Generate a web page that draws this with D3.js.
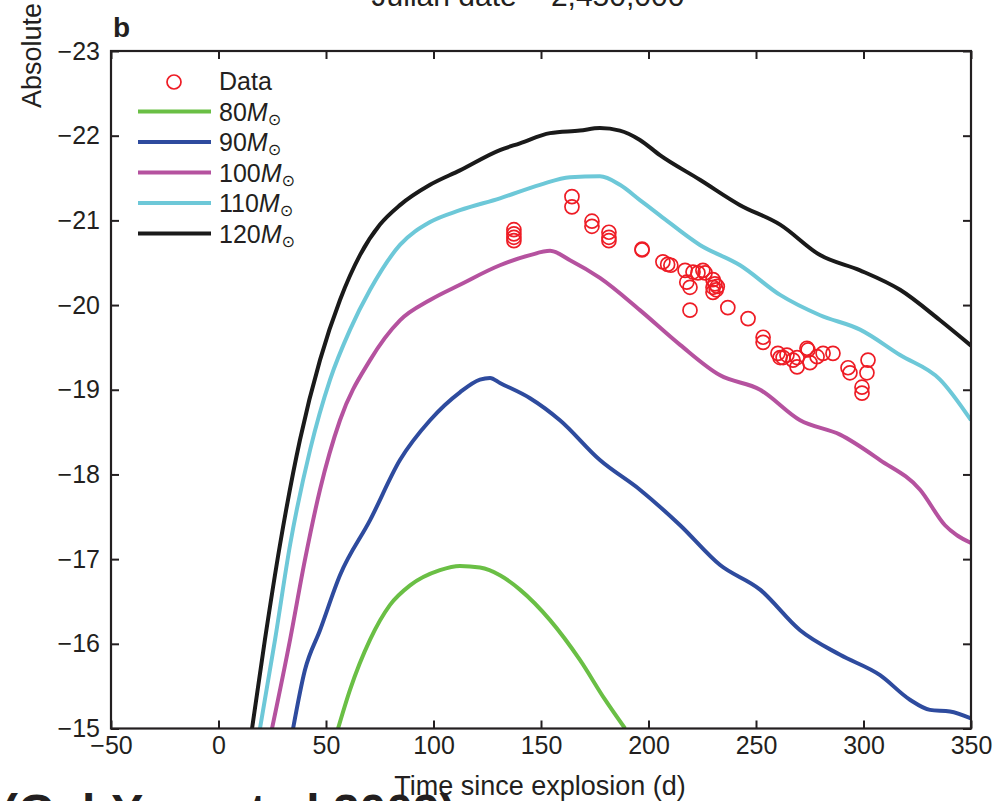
<!DOCTYPE html>
<html>
<head>
<meta charset="utf-8">
<script src="https://cdn.jsdelivr.net/npm/d3@7"></script>
<style>
  html, body { margin: 0; padding: 0; background: #fff; }
  svg { display: block; }
  text { font-family: "Liberation Sans", Arial, Helvetica, sans-serif; fill: #231f20; }
</style>
</head>
<body>
<svg id="chart" width="998" height="801"></svg>
<script>
// ---- Data ----
const xTicks = [-50, 0, 50, 100, 150, 200, 250, 300, 350];
const yTicks = [-23, -22, -21, -20, -19, -18, -17, -16, -15];

const m120Days = [15.6,21.6,28.6,37.9,47.2,56.5,65.8,75.1,84.4,98.4,112.3,130.9,140.2,154.2,168.1,177.4,186.7,196,205.3,223.9,242.6,261.2,279.8,298.4,317,335.6,350];
const m120Mag  = [-15.0,-16.05,-17.17,-18.41,-19.35,-20.06,-20.59,-20.95,-21.18,-21.42,-21.59,-21.83,-21.91,-22.03,-22.06,-22.09,-22.06,-21.95,-21.77,-21.48,-21.18,-20.95,-20.59,-20.41,-20.18,-19.82,-19.52];

const m110Days = [19.3,26.3,33.3,42.6,51.9,61.2,70.5,84.4,98.4,112.3,130.9,149.5,163.5,177.4,186.7,196,205.3,223.9,242.6,261.2,279.8,298.4,317,335.6,350];
const m110Mag  = [-15.0,-16.05,-17.17,-18.29,-19.12,-19.71,-20.18,-20.71,-20.98,-21.12,-21.26,-21.42,-21.51,-21.52,-21.42,-21.24,-21.06,-20.71,-20.47,-20.12,-19.88,-19.71,-19.41,-19.12,-18.64];

const m100Days = [24.9,33.3,40.2,47.2,56.5,70.5,84.4,98.4,112.3,130.9,144.9,154.2,163.5,177.4,196,214.7,233.3,251.9,270.5,289.1,307.7,326.3,337.9,350];
const m100Mag  = [-15.0,-16.05,-16.99,-17.82,-18.64,-19.35,-19.82,-20.06,-20.24,-20.47,-20.59,-20.64,-20.53,-20.32,-19.94,-19.53,-19.17,-19.00,-18.64,-18.47,-18.17,-17.82,-17.40,-17.19];

const m90Days = [34.7,40.2,47.2,56.5,70.5,84.4,98.4,112.3,121.6,126.3,130.9,144.9,158.8,177.4,196,214.7,233.3,251.9,270.5,289.1,307.7,321.6,330.9,340.2,350];
const m90Mag  = [-15.0,-15.69,-16.16,-16.81,-17.46,-18.17,-18.64,-18.97,-19.12,-19.14,-19.08,-18.90,-18.64,-18.17,-17.82,-17.40,-16.93,-16.64,-16.16,-15.87,-15.63,-15.34,-15.22,-15.20,-15.12];

const m80Days = [55.6,61.2,70.5,79.8,89.1,103,112.3,121.6,130.9,140.2,154.2,168.1,179.8,189.1];
const m80Mag  = [-15.0,-15.46,-16.05,-16.46,-16.69,-16.87,-16.92,-16.90,-16.81,-16.64,-16.28,-15.81,-15.34,-15.0];

const obsDays = [137.4,137.4,137.4,137.4,164.4,164.4,173.7,173.7,181.6,181.6,181.6,197,197,206.7,208.9,210.4,217,217.8,219.3,219.3,220.7,223,225.3,226.3,230,230,230,230.9,232,231.5,236.9,246.3,253.3,253.3,260.2,261.2,262.6,264.4,267.2,269.1,269.1,273.7,274.2,275.1,278.4,281.2,285.8,292.8,293.7,302.1,301.6,299.3,299.3];
const obsMag  = [-20.89,-20.84,-20.80,-20.76,-21.28,-21.16,-20.99,-20.93,-20.86,-20.80,-20.76,-20.66,-20.65,-20.51,-20.48,-20.47,-20.41,-20.27,-20.21,-19.94,-20.39,-20.38,-20.41,-20.38,-20.30,-20.21,-20.15,-20.25,-20.22,-20.18,-19.97,-19.84,-19.62,-19.56,-19.43,-19.38,-19.38,-19.41,-19.35,-19.38,-19.27,-19.49,-19.47,-19.32,-19.39,-19.43,-19.43,-19.26,-19.20,-19.35,-19.20,-19.03,-18.96];

const modelNames  = ["80", "90", "100", "110", "120"];
const modelColors = ["#6abf45", "#2e4b9e", "#b5529f", "#6dc8d8", "#1a1a1a"];

// ---- Layout ----
const svg = d3.select("#chart");
const L = 111, R = 971, T = 51, B = 728.5;
const x = d3.scaleLinear().domain([-50, 350]).range([L, R]);
const y = d3.scaleLinear().domain([-23, -15]).range([T, B]);

const models = [
  {name: modelNames[0], color: modelColors[0], days: m80Days,  mag: m80Mag},
  {name: modelNames[1], color: modelColors[1], days: m90Days,  mag: m90Mag},
  {name: modelNames[2], color: modelColors[2], days: m100Days, mag: m100Mag},
  {name: modelNames[3], color: modelColors[3], days: m110Days, mag: m110Mag},
  {name: modelNames[4], color: modelColors[4], days: m120Days, mag: m120Mag}
];

svg.append("defs").append("clipPath").attr("id", "plotclip")
  .append("rect").attr("x", L).attr("y", T).attr("width", R - L).attr("height", B - T);

// model curves
const line = d3.line().curve(d3.curveMonotoneX).x(d => x(d[0])).y(d => y(d[1]));
const gLines = svg.append("g").attr("clip-path", "url(#plotclip)");
models.forEach(m => {
  gLines.append("path")
    .datum(m.days.map((d, i) => [d, m.mag[i]]))
    .attr("d", line)
    .attr("fill", "none")
    .attr("stroke", m.color)
    .attr("stroke-width", 4)
    .attr("stroke-linejoin", "round")
    .attr("stroke-linecap", "butt");
});

// data points
svg.append("g").selectAll("circle")
  .data(obsDays.map((d, i) => [d, obsMag[i]]))
  .join("circle")
  .attr("cx", d => x(d[0]))
  .attr("cy", d => y(d[1]))
  .attr("r", 7)
  .attr("fill", "none")
  .attr("stroke", "#ee1c25")
  .attr("stroke-width", 1.7);

// axes
const fontSize = 25;
const axB = svg.append("g").attr("transform", `translate(0,${B})`)
  .call(d3.axisBottom(x).tickValues(xTicks).tickSizeInner(-8).tickSizeOuter(0).tickPadding(8));
const axL = svg.append("g").attr("transform", `translate(${L},0)`)
  .call(d3.axisLeft(y).tickValues(yTicks).tickSizeInner(-8).tickSizeOuter(0).tickPadding(11));
const axT = svg.append("g").attr("transform", `translate(0,${T})`)
  .call(d3.axisTop(x).tickValues(xTicks).tickSizeInner(-8).tickSizeOuter(0).tickFormat(""));
const axR = svg.append("g").attr("transform", `translate(${R},0)`)
  .call(d3.axisRight(y).tickValues(yTicks).tickSizeInner(-8).tickSizeOuter(0).tickFormat(""));
[axB, axL, axT, axR].forEach(a => {
  a.select(".domain").remove();
  a.selectAll("line").attr("stroke", "#231f20").attr("stroke-width", 2);
  a.selectAll("text").attr("font-size", fontSize).attr("fill", "#231f20")
    .style("font-family", '"Liberation Sans", Arial, sans-serif');
});

// frame
svg.append("rect").attr("x", L).attr("y", T).attr("width", R - L).attr("height", B - T)
  .attr("fill", "none").attr("stroke", "#231f20").attr("stroke-width", 2.2);

// legend
const lg = svg.append("g");
lg.append("circle").attr("cx", 174).attr("cy", 82).attr("r", 7)
  .attr("fill", "none").attr("stroke", "#ee1c25").attr("stroke-width", 1.7);
lg.append("text").attr("x", 219).attr("y", 90).attr("font-size", fontSize).text("Data");
models.forEach((m, i) => {
  const yy = 111.5 + i * 30.5;
  lg.append("line").attr("x1", 138).attr("x2", 211).attr("y1", yy).attr("y2", yy)
    .attr("stroke", m.color).attr("stroke-width", 4);
  const t = lg.append("text").attr("x", 219).attr("y", yy + 9).attr("font-size", fontSize);
  t.append("tspan").text(m.name);
  t.append("tspan").attr("font-style", "italic").text("M");
  t.append("tspan").attr("font-size", 16).attr("dy", 4)
    .style("font-family", '"DejaVu Sans", sans-serif').text("⊙");
});

// titles
svg.append("text").attr("x", (L + R) / 2 - 1).attr("y", 795).attr("text-anchor", "middle")
  .attr("font-size", 27).text("Time since explosion (d)");
svg.append("text").attr("transform", "translate(41,108) rotate(-90)")
  .attr("font-size", 27).text("Absolute R magnitude");
svg.append("text").attr("x", 528).attr("y", 6).attr("text-anchor", "middle")
  .attr("font-size", 30).text("Julian date − 2,450,000");
svg.append("text").attr("x", 113).attr("y", 37).attr("font-size", 28)
  .attr("font-weight", "bold").text("b");
svg.append("text").attr("x", 2).attr("y", 828).attr("font-size", 48)
  .attr("font-weight", "bold").text("(Gal-Yam et al 2009)");
</script>
</body>
</html>
